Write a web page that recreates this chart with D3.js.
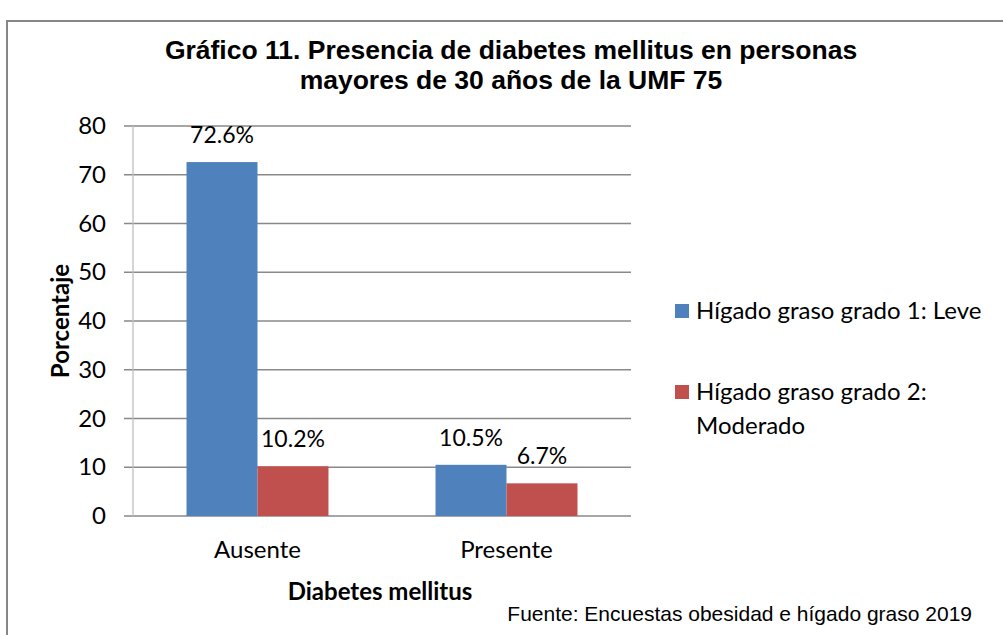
<!DOCTYPE html>
<html lang="es">
<head>
<meta charset="utf-8">
<title>Gráfico 11</title>
<style>
  body { margin: 0; background: #fff; }
  .grid line { stroke: #898989; stroke-width: 1.3; }
  .lbl { font-family: Lato, "Noto Sans", sans-serif; fill: #000; }
</style>
<script src="https://d3js.org/d3.v7.min.js"></script>
</head>
<body>
<svg width="1003" height="635"></svg>
<script>
// data
var categorias = ["Ausente", "Presente"];
var series = ["Hígado graso grado 1: Leve", "Hígado graso grado 2: Moderado"];
var leve = [72.6, 10.5];
var moderado = [10.2, 6.7];
var etiquetas = [["72.6%", "10.5%"], ["10.2%", "6.7%"]];
var ticksY = [0, 10, 20, 30, 40, 50, 60, 70, 80];
var colores = ["#4F81BD", "#C0504D"];

var svg = d3.select("svg");

// marco
svg.append("rect")
  .attr("x", 7).attr("y", 21)
  .attr("width", 1003).attr("height", 635)
  .attr("fill", "#fff")
  .attr("stroke", "#868686").attr("stroke-width", 2);

var x0 = d3.scaleBand().domain(categorias).range([133, 631]);
var x1 = d3.scaleBand().domain(series).range([0, x0.bandwidth()])
  .paddingInner(0).paddingOuter(0.754);
var y = d3.scaleLinear().domain([0, 80]).range([516, 126]);

// titulo
svg.append("text")
  .attr("x", 511).attr("y", 59)
  .attr("text-anchor", "middle")
  .style("font", "bold 26.5px 'Liberation Sans', Arial, sans-serif")
  .selectAll("tspan")
  .data(["Gráfico 11. Presencia de diabetes mellitus en personas", "mayores de 30 años de la UMF 75"])
  .enter().append("tspan")
    .attr("x", 511)
    .attr("dy", function(d, i) { return i ? 30 : 0; })
    .text(function(d) { return d; });

// rejilla
var grid = svg.append("g").attr("class", "grid");
grid.selectAll("line")
  .data(ticksY)
  .enter().append("line")
    .attr("x1", 124).attr("x2", 631)
    .attr("y1", function(d) { return y(d); })
    .attr("y2", function(d) { return y(d); });

// eje y
svg.append("line")
  .attr("x1", 133).attr("x2", 133)
  .attr("y1", y(80)).attr("y2", y(0))
  .attr("stroke", "#bfbfbf").attr("stroke-width", 1.3);

svg.append("g").selectAll("text")
  .data(ticksY)
  .enter().append("text")
    .attr("class", "lbl")
    .attr("x", 106)
    .attr("y", function(d) { return y(d) + 8; })
    .attr("text-anchor", "end")
    .style("font-size", "24px")
    .text(function(d) { return d; });

// barras
var valores = [leve, moderado];
series.forEach(function(s, si) {
  var g = svg.append("g");
  g.selectAll("rect")
    .data(valores[si])
    .enter().append("rect")
      .attr("x", function(d, i) { return x0(categorias[i]) + x1(s); })
      .attr("y", function(d) { return y(d); })
      .attr("width", x1.bandwidth())
      .attr("height", function(d) { return y(0) - y(d); })
      .attr("fill", colores[si]);
  g.selectAll("text")
    .data(valores[si])
    .enter().append("text")
      .attr("class", "lbl")
      .attr("x", function(d, i) { return x0(categorias[i]) + x1(s) + x1.bandwidth() / 2; })
      .attr("y", function(d) { return y(d) - 19; })
      .attr("text-anchor", "middle")
      .style("font-size", "23px")
      .text(function(d, i) { return etiquetas[si][i]; });
});

// etiquetas eje x
svg.append("g").selectAll("text")
  .data(categorias)
  .enter().append("text")
    .attr("class", "lbl")
    .attr("x", function(d) { return x0(d) + x0.bandwidth() / 2; })
    .attr("y", 558)
    .attr("text-anchor", "middle")
    .style("font-size", "24px")
    .text(function(d) { return d; });

svg.append("text")
  .attr("class", "lbl")
  .attr("x", 380).attr("y", 600)
  .attr("text-anchor", "middle")
  .style("font-size", "24px").style("font-weight", "bold")
  .text("Diabetes mellitus");

svg.append("text")
  .attr("class", "lbl")
  .attr("transform", "translate(69,321) rotate(-90)")
  .attr("text-anchor", "middle")
  .style("font-size", "24px").style("font-weight", "bold")
  .text("Porcentaje");

// leyenda
var leyenda = [[series[0]], ["Hígado graso grado 2:", "Moderado"]];
var leyY = [311, 392];
leyenda.forEach(function(lineas, i) {
  svg.append("rect")
    .attr("x", 675).attr("y", leyY[i] - 7)
    .attr("width", 14).attr("height", 14)
    .attr("fill", colores[i]);
  var t = svg.append("text")
    .attr("class", "lbl")
    .attr("x", 696).attr("y", leyY[i] + 8)
    .style("font-size", "24px");
  lineas.forEach(function(l, j) {
    t.append("tspan").attr("x", 696).attr("dy", j ? 34 : 0).text(l);
  });
});

// fuente
svg.append("text")
  .attr("x", 972).attr("y", 621)
  .attr("text-anchor", "end")
  .style("font", "21px 'Liberation Sans', Arial, sans-serif")
  .text("Fuente: Encuestas obesidad e hígado graso 2019");
</script>
</body>
</html>
